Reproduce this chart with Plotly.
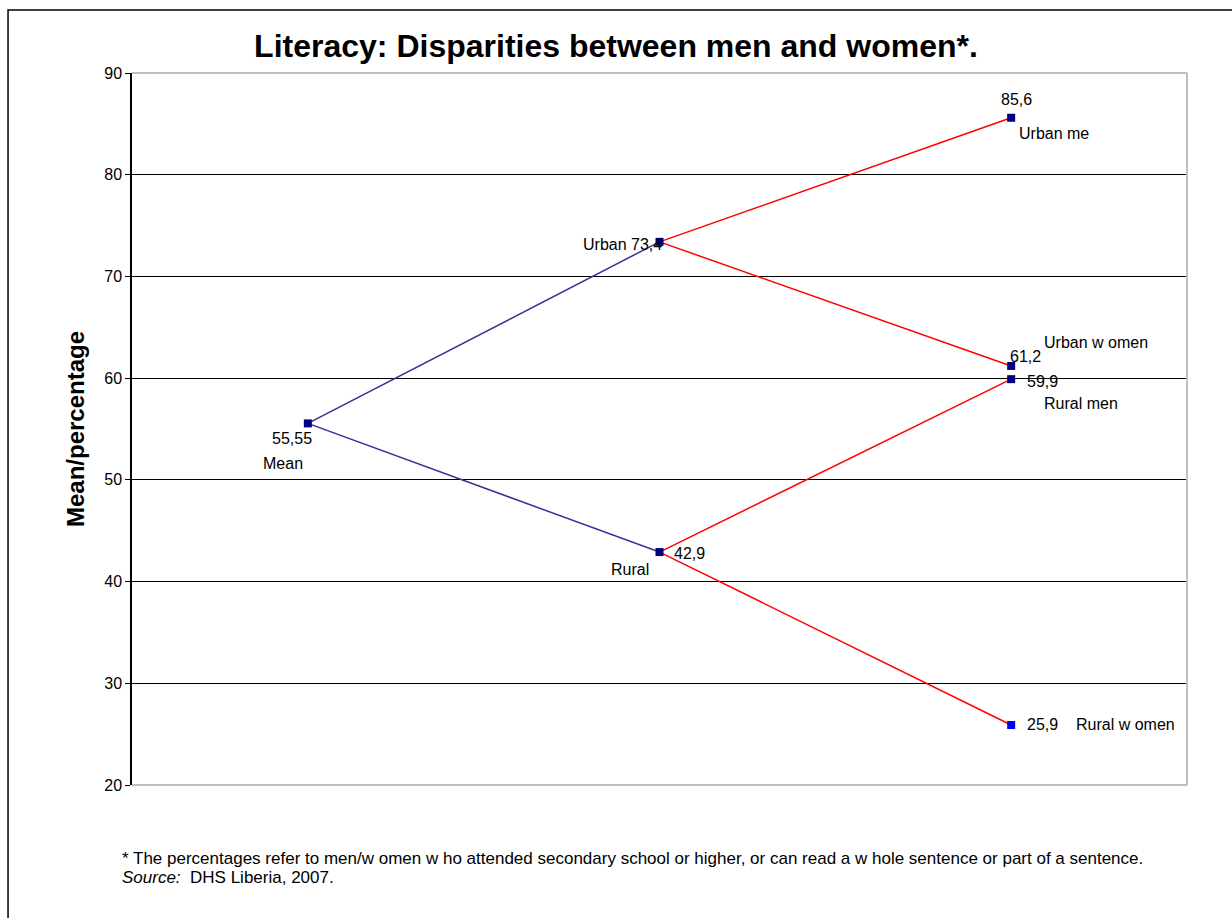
import plotly.graph_objects as go

# --- data -------------------------------------------------------------
stages = ["Mean", "Area", "Area and sex"]
mean_name = "Mean"
mean_value = 55.55
area_names = ["Urban", "Rural"]
area_values = [73.4, 42.9]
group_names = ["Urban me", "Urban w omen", "Rural men", "Rural w omen"]
group_values = [85.6, 61.2, 59.9, 25.9]
group_area = [0, 0, 1, 1]

FONT = "Liberation Sans, Arial, sans-serif"
NAVY = "#000080"
BLUE_LINE = "#333399"
RED = "#FF0000"
LABEL_SIZE = 16


def fmt(v):
    return f"{v:g}".replace(".", ",")


fig = go.Figure()

# mean -> area (blue)
for v in area_values:
    fig.add_trace(go.Scatter(x=[stages[0], stages[1]], y=[mean_value, v], mode="lines",
                             line=dict(color=BLUE_LINE, width=1.5), hoverinfo="skip"))
# area -> area by sex (red)
for v, a in zip(group_values, group_area):
    fig.add_trace(go.Scatter(x=[stages[1], stages[2]], y=[area_values[a], v], mode="lines",
                             line=dict(color=RED, width=1.5), hoverinfo="skip"))

# markers
mx = [stages[0]] + [stages[1]] * len(area_values) + [stages[2]] * len(group_values)
my = [mean_value] + area_values + group_values
mc = [NAVY] * (len(my) - 1) + ["#0000FF"]
fig.add_trace(go.Scatter(x=mx, y=my, mode="markers",
                         marker=dict(symbol="square", size=8, color=mc, line=dict(width=0))))

# --- labels ------------------------------------------------------------
ann = []


def lab(x, y, text, dx, dy, anchor="center"):
    ann.append(dict(x=x, y=y, xref="x", yref="y", text=text, showarrow=False,
                    xanchor=anchor, yanchor="middle", xshift=dx, yshift=dy,
                    font=dict(family=FONT, size=LABEL_SIZE, color="black")))


lab(stages[0], mean_value, fmt(mean_value), -16, -15)
lab(stages[0], mean_value, mean_name, -25, -40)

lab(stages[1], area_values[0], f"{area_names[0]} {fmt(area_values[0])}", 4, -3, "right")
lab(stages[1], area_values[1], fmt(area_values[1]), 12, -1, "left")
lab(stages[1], area_values[1], area_names[1], -30, -17)

lab(stages[2], group_values[0], fmt(group_values[0]), 5, 18)
lab(stages[2], group_values[0], group_names[0], 6, -16, "left")
lab(stages[2], group_values[1], fmt(group_values[1]), -3, 9, "left")
lab(stages[2], group_values[1], group_names[1], 31, 23, "left")
lab(stages[2], group_values[2], fmt(group_values[2]), 14, -2, "left")
lab(stages[2], group_values[2], group_names[2], 31, -24, "left")
lab(stages[2], group_values[3], fmt(group_values[3]), 14, 0, "left")
lab(stages[2], group_values[3], group_names[3], 63, 0, "left")

# axis title
ann.append(dict(x=-0.054, y=0.5, xref="paper", yref="paper", text="<b>Mean/percentage</b>",
                textangle=-90, showarrow=False, xanchor="center", yanchor="middle",
                font=dict(family=FONT, size=24, color="black")))

# footnote
ann.append(dict(x=-0.0114, y=-0.103, xref="paper", yref="paper", showarrow=False,
                xanchor="left", yanchor="middle", align="left",
                text="* The percentages refer to men/w omen w ho attended secondary school or higher, "
                     "or can read a w hole sentence or part of a sentence.",
                font=dict(family=FONT, size=17, color="black")))
ann.append(dict(x=-0.0114, y=-0.1306, xref="paper", yref="paper", showarrow=False,
                xanchor="left", yanchor="middle", align="left",
                text="<i>Source:</i>  DHS Liberia, 2007.",
                font=dict(family=FONT, size=17, color="black")))

# --- frame and plot border ----------------------------------------------
GRAY = "#BFBFBF"
shapes = [
    dict(type="rect", xref="paper", yref="paper", x0=-0.1175, x1=1.06, y0=-0.21, y1=1.0885,
         line=dict(color="black", width=1.5), layer="below"),
    dict(type="line", xref="paper", yref="paper", x0=0, x1=1, y0=1, y1=1,
         line=dict(color=GRAY, width=2), layer="above"),
    dict(type="line", xref="paper", yref="paper", x0=1, x1=1, y0=0, y1=1,
         line=dict(color=GRAY, width=2), layer="above"),
    dict(type="line", xref="paper", yref="paper", x0=0, x1=1, y0=0, y1=0,
         line=dict(color=GRAY, width=2), layer="above"),
]

fig.update_layout(
    width=1232, height=918,
    margin=dict(l=132, r=45, t=73, b=133),
    paper_bgcolor="white", plot_bgcolor="white",
    showlegend=False,
    title=dict(text="<b>Literacy: Disparities between men and women*.</b>",
               x=0.5, xanchor="center", xref="container", y=1 - 46 / 918, yanchor="middle",
               font=dict(family=FONT, size=32, color="black")),
    xaxis=dict(type="category", categoryorder="array", categoryarray=stages,
               range=[-0.5, 2.5], showticklabels=False, showgrid=False,
               zeroline=False, showline=False, ticks=""),
    yaxis=dict(range=[20, 90], dtick=10, tick0=20, showgrid=True, gridcolor="black",
               gridwidth=1, zeroline=False, showline=True, linecolor="black",
               linewidth=1.5, ticks="outside", ticklen=5, tickcolor="black",
               tickfont=dict(family=FONT, size=16, color="black")),
    annotations=ann,
    shapes=shapes,
)

fig.write_html("out.html")
